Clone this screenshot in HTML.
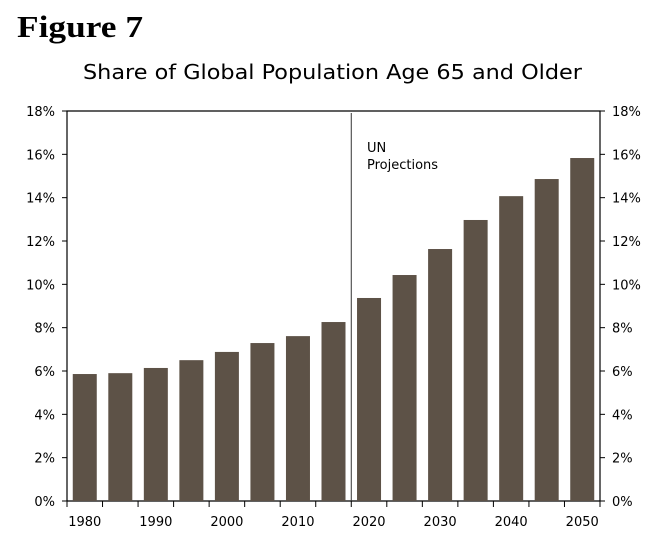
<!DOCTYPE html>
<html><head><meta charset="utf-8"><style>
body{margin:0;background:#fff;width:653px;height:537px;overflow:hidden}
text{font-family:"DejaVu Sans",Verdana,sans-serif}
</style></head><body>
<svg id="chart" width="653" height="537" xmlns="http://www.w3.org/2000/svg">
<text x="17" y="37" style="font-family:'Liberation Serif',serif" font-weight="bold" font-size="31" fill="#000" textLength="126" lengthAdjust="spacingAndGlyphs">Figure 7</text>
<text x="83" y="79" font-size="20" fill="#000" textLength="499" lengthAdjust="spacingAndGlyphs">Share of Global Population Age 65 and Older</text>
<g id="axes"></g>
<g id="bars"></g>
</svg>
<script>
const years=[1980,1985,1990,1995,2000,2005,2010,2015,2020,2025,2030,2035,2040,2045,2050];
const shares=[5.86,5.9,6.14,6.5,6.88,7.29,7.61,8.26,9.37,10.43,11.63,12.97,14.07,14.86,15.83];
const yTicks=[0,2,4,6,8,10,12,14,16,18];
const xLabels=[1980,1990,2000,2010,2020,2030,2040,2050];
const L=67,R=600,T=111,B=501;
const band=(R-L)/years.length;
const x=i=>L+band*i;
const y=v=>B-(v/18)*(B-T);
const NS="http://www.w3.org/2000/svg";
function mk(tag,attrs,parent){const e=document.createElementNS(NS,tag);for(const k in attrs)e.setAttribute(k,attrs[k]);parent.appendChild(e);return e;}
const ax=document.getElementById('axes'),bg=document.getElementById('bars');
shares.forEach((v,i)=>{
  const r=mk('rect',{x:x(i)+band/2-12,y:y(v),width:24,height:B-y(v),fill:'#5d5247'},bg);
  
  
});
let l;
l=mk('path',{d:`M${L},${B}V${T}H${R}V${B}H${L}`,stroke:'#000','stroke-width':1.2,fill:'none'},ax);

yTicks.forEach(t=>{
  mk('line',{x1:L-5,x2:L,y1:y(t),y2:y(t),stroke:'#000'},ax);
  mk('line',{x1:R,x2:R+5,y1:y(t),y2:y(t),stroke:'#000'},ax);
  const a=mk('text',{x:L-12,y:y(t)+5,'text-anchor':'end','font-size':13,fill:'#000'},ax);a.textContent=t+'%';
  
  const b=mk('text',{x:R+12,y:y(t)+5,'font-size':13,fill:'#000'},ax);b.textContent=t+'%';
  
});
for(let i=0;i<=years.length;i++)mk('line',{x1:x(i),x2:x(i),y1:B,y2:B+6,stroke:'#000'},ax);
xLabels.forEach(yr=>{
  const i=years.indexOf(yr);
  const t=mk('text',{x:x(i)+band/2,y:B+25,'text-anchor':'middle','font-size':13,fill:'#000'},ax);t.textContent=yr;
  
});
const px=x(years.indexOf(2020));
l=mk('line',{x1:px,x2:px,y1:T+2,y2:B,stroke:'#333','stroke-width':1},ax);

const t1=mk('text',{x:367,y:152,'font-size':13,fill:'#000'},ax);t1.textContent='UN';

const t2=mk('text',{x:367,y:169,'font-size':13,fill:'#000'},ax);t2.textContent='Projections';

</script>
</body></html>
